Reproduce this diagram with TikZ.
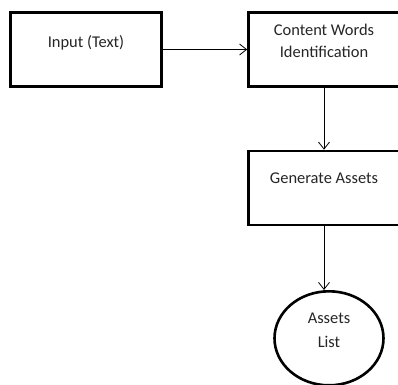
\documentclass[tikz,border=0pt]{standalone}
\usepackage{fontspec}
\setmainfont{Carlito}
\usetikzlibrary{arrows.meta,shapes}

\begin{document}
\begin{tikzpicture}[x=1bp, y=1bp,
	box/.style={fill=white, draw=black, line width=2.6bp, shape=rectangle, minimum width=151bp, minimum height=74bp, align=center, text=black!85, text height=9bp, font=\fontsize{16.5}{22}\selectfont},
	flow/.style={draw=black, line width=0.8bp, -{Straight Barb[length=7bp, width=11bp]}}]
	\useasboundingbox (0, 0) rectangle (398, 385);
	\node [box, text depth=13bp] (0) at (86, 335.5) {Input (Text)};
	\node [box, text height=25bp, text depth=9bp] (1) at (324, 335.5) {Content Words\\ Identification};
	\node [box, text depth=18bp] (2) at (324, 197) {Generate Assets};
	\node [box, shape=ellipse, inner sep=0pt, minimum width=109bp, minimum height=94bp, text height=27bp, text depth=9bp, font=\fontsize{16.5}{24}\selectfont] (3) at (329, 46.7) {Assets\\ List};
	\draw [flow] (0) to (1);
	\draw [flow] (1) to (2);
	\draw [flow] (2) to (2 |- 3.north);
\end{tikzpicture}
\end{document}
